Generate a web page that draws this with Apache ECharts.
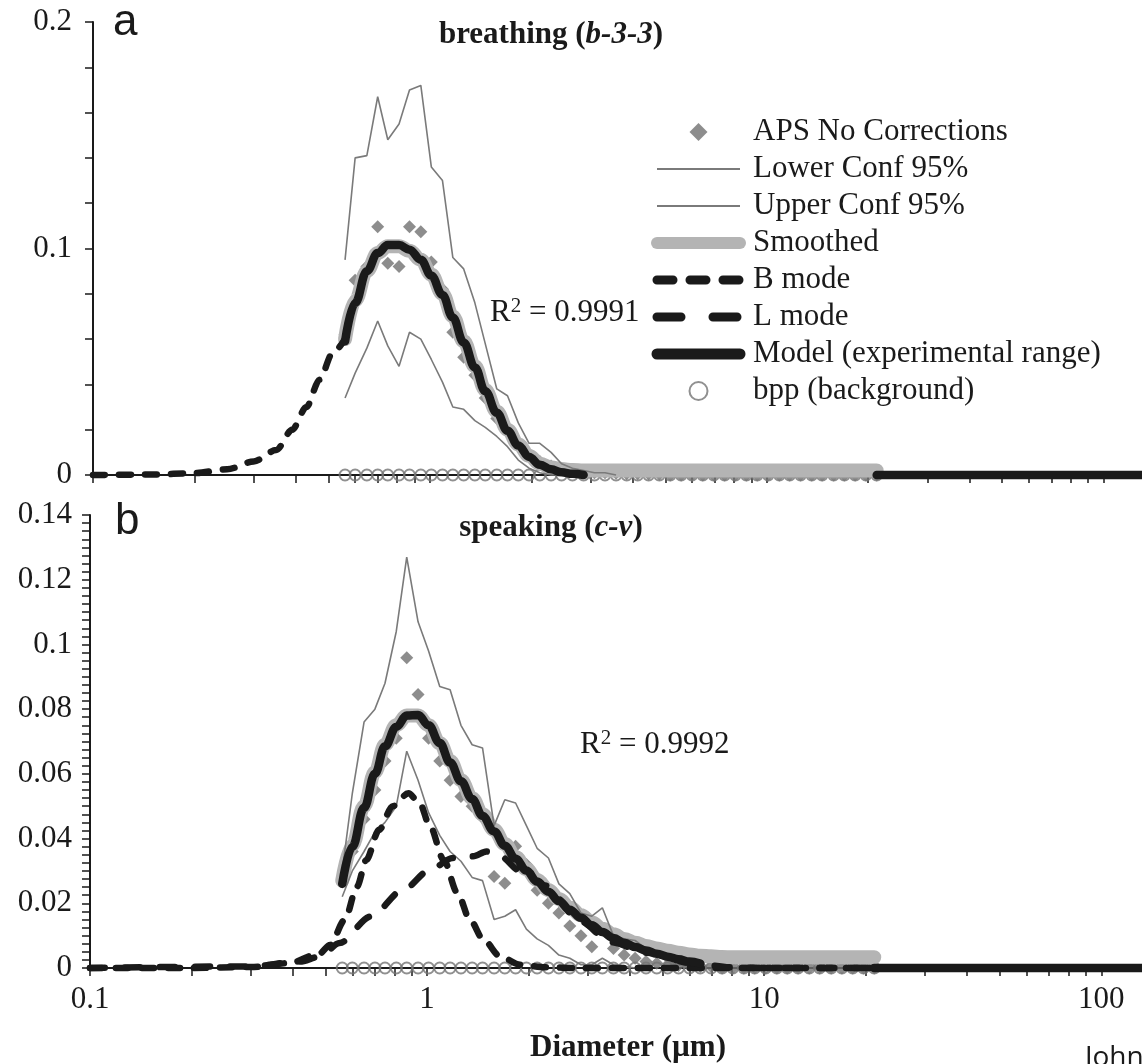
<!DOCTYPE html>
<html>
<head>
<meta charset="utf-8">
<script src="https://cdn.jsdelivr.net/npm/echarts@6/dist/echarts.min.js"></script>
<style>
  html, body { margin: 0; padding: 0; background: #fff; }
  #chart { width: 1142px; height: 1064px; }
</style>
</head>
<body>
<div id="chart"></div>
<script>
// APS channel diameters (µm)
const dp = [
  0.56, 0.60, 0.65, 0.70, 0.75, 0.81, 0.87, 0.94, 1.01, 1.09,
  1.17, 1.26, 1.36, 1.46, 1.58, 1.70, 1.83, 1.97, 2.12, 2.29,
  2.46, 2.65, 2.86, 3.08, 3.31, 3.57, 3.84, 4.14, 4.46, 4.80,
  5.17, 5.57, 6.00, 6.46, 6.96, 7.50, 8.07, 8.70, 9.37, 10.1,
  10.9, 11.7, 12.6, 13.6, 14.6, 15.8, 17.0, 18.3, 19.7, 21.2
];

// x axis ticks (major + minor) and labelled decades
const xTicks = [
  0.1, 0.2, 0.3, 0.4, 0.5, 0.6, 0.7, 0.8, 0.9,
  1, 2, 3, 4, 5, 6, 7, 8, 9,
  10, 20, 30, 40, 50, 60, 70, 80, 90, 100
];
const xLabels = [0.1, 1, 10, 100];

// ---- panel a: breathing (b-3-3) ----
const apsA = [
  0.062, 0.086, 0.092, 0.1096, 0.0935, 0.092, 0.1096, 0.1074, 0.094, 0.082,
  0.063, 0.052, 0.044, 0.034, 0.025, 0.019, 0.014, 0.009, 0.006, 0.004,
  0.003, 0.002, 0.0015, 0.001, 0.001, 0.0008, 0.0006, 0.0005, 0.0004, 0.0003,
  0, 0, 0, 0, 0, 0, 0, 0, 0, 0,
  0, 0, 0, 0, 0, 0, 0, 0, 0, 0
];
const lowerA = [
  0.034, 0.045, 0.056, 0.068, 0.057, 0.048, 0.063, 0.060, 0.051, 0.041,
  0.030, 0.029, 0.024, 0.021, 0.017, 0.0125, 0.0066, 0.003, 0.001, 0,
  0
];
const upperA = [
  0.095, 0.140, 0.141, 0.167, 0.148, 0.155, 0.170, 0.172, 0.136, 0.130,
  0.096, 0.091, 0.076, 0.058, 0.038, 0.035, 0.023, 0.014, 0.014, 0.010,
  0.005, 0.003, 0.002, 0.001, 0.001, 0
];
const smoothA = [
  0.060, 0.077, 0.090, 0.098, 0.101, 0.101, 0.099, 0.095, 0.0885, 0.080,
  0.070, 0.059, 0.048, 0.0375, 0.028, 0.020, 0.0135, 0.0085, 0.005, 0.0033,
  0.0026, 0.0022, 0.002, 0.002, 0.002, 0.002, 0.002, 0.002, 0.002, 0.002,
  0.002, 0.002, 0.002, 0.002, 0.002, 0.002, 0.002, 0.002, 0.002, 0.002,
  0.002, 0.002, 0.002, 0.002, 0.002, 0.002, 0.002, 0.002, 0.002, 0.002
];
const modelA = [
  0.059, 0.076, 0.090, 0.098, 0.1015, 0.1015, 0.0995, 0.095, 0.088, 0.0795,
  0.0695, 0.0585, 0.0475, 0.037, 0.0275, 0.0195, 0.013, 0.008, 0.0045, 0.0025,
  0.0012, 0.0005, 0
];
const bModeAD = [0.1, 0.15, 0.2, 0.25, 0.3, 0.35, 0.39, 0.43, 0.47, 0.515, 0.56];
const bModeA = [0, 0.0002, 0.0008, 0.0025, 0.006, 0.011, 0.020, 0.030, 0.042, 0.054, 0.060];

// ---- panel b: speaking (c-v) ----
const apsB = [
  0.027, 0.036, 0.046, 0.055, 0.064, 0.071, 0.0959, 0.0845, 0.071, 0.064,
  0.058, 0.053, 0.050, 0.0464, 0.0283, 0.0262, 0.0376, 0.032, 0.024, 0.020,
  0.017, 0.013, 0.010, 0.0066, 0.0118, 0.006, 0.004, 0.003, 0.002, 0.0015,
  0.001, 0.0008, 0.0006, 0.0005, 0.0004, 0, 0, 0, 0, 0,
  0, 0, 0, 0, 0, 0, 0, 0, 0, 0
];
const lowerB = [
  0.022, 0.030, 0.036, 0.042, 0.045, 0.050, 0.067, 0.058, 0.048, 0.041,
  0.036, 0.033, 0.028, 0.027, 0.015, 0.016, 0.018, 0.012, 0.009, 0.007,
  0.004, 0.003, 0.001, 0.001, 0.003, 0.001, 0.0005, 0
];
const upperB = [
  0.030, 0.054, 0.076, 0.080, 0.088, 0.104, 0.127, 0.107, 0.098, 0.087,
  0.086, 0.075, 0.069, 0.068, 0.044, 0.052, 0.051, 0.044, 0.037, 0.034,
  0.026, 0.023, 0.017, 0.016, 0.0186, 0.010, 0.009, 0.0085, 0.006, 0.004,
  0.002, 0.001, 0
];
const smoothB = [
  0.027, 0.038, 0.050, 0.0605, 0.069, 0.075, 0.078, 0.078, 0.075, 0.0695,
  0.064, 0.058, 0.0525, 0.0475, 0.0427, 0.0383, 0.0343, 0.0306, 0.0272, 0.0241,
  0.0213, 0.0187, 0.0163, 0.0141, 0.0121, 0.0104, 0.009, 0.0078, 0.0068, 0.006,
  0.0053, 0.0047, 0.0042, 0.0038, 0.0036, 0.0034, 0.0033, 0.0033, 0.0033, 0.0033,
  0.0033, 0.0033, 0.0033, 0.0033, 0.0033, 0.0033, 0.0033, 0.0033, 0.0033, 0.0033
];
const modelB = [
  0.026, 0.0375, 0.0495, 0.060, 0.0685, 0.0745, 0.078, 0.0782, 0.075, 0.0695,
  0.0635, 0.0577, 0.0522, 0.047, 0.0422, 0.0378, 0.0338, 0.0301, 0.0267, 0.0236,
  0.0207, 0.018, 0.0155, 0.0132, 0.0111, 0.0093, 0.0078, 0.0065, 0.0054, 0.0044,
  0.0035, 0.0027, 0.002, 0.0014
];
const bModeBD = [0.1, 0.2, 0.3, 0.39, 0.48, 0.515, 0.57, 0.62, 0.66, 0.72, 0.79, 0.88,
  0.95, 1.02, 1.12, 1.23, 1.34, 1.47, 1.65, 1.89, 2.24, 2.84, 132];
const bModeB = [0, 0, 0.0003, 0.0015, 0.0045, 0.0071, 0.0149, 0.0252, 0.0334, 0.0427, 0.050, 0.054,
  0.051, 0.0438, 0.0334, 0.0232, 0.0149, 0.0087, 0.0035, 0.001, 0.0002, 0, 0];
const lModeBD = [0.1, 0.3, 0.42, 0.48, 0.55, 0.68, 0.85, 1.02, 1.19, 1.37, 1.5,
  1.65, 1.89, 2.24, 2.84, 3.5, 4.5, 6, 8, 10, 132];
const lModeB = [0, 0.0005, 0.002, 0.0035, 0.0077, 0.0159, 0.0242, 0.0303, 0.034, 0.0345, 0.036,
  0.0345, 0.030, 0.0255, 0.0145, 0.008, 0.0047, 0.0016, 0.0002, 0, 0];

// background (bpp) is zero in every channel
const bpp = [
  0, 0, 0, 0, 0, 0, 0, 0, 0, 0, 0, 0, 0, 0, 0, 0, 0, 0, 0, 0, 0, 0, 0, 0, 0,
  0, 0, 0, 0, 0, 0, 0, 0, 0, 0, 0, 0, 0, 0, 0, 0, 0, 0, 0, 0, 0, 0, 0, 0, 0
];
// model line beyond the last channel, along zero to the axis end
const tailD = [21.2, 60, 132];
const tailV = [0, 0, 0];

const SERIF = "'Liberation Serif', 'Times New Roman', serif";
const INK = "#1a1a1a";
const NOFILL = "rgba(0,0,0,0)";
const DIAMOND = "path://M0,-1L1,0L0,1L-1,0Z";

const pairs = (xs, ys) => ys.map((y, i) => [xs[i], y]);

function panelSeries(g, d) {
  const base = { xAxisIndex: g, yAxisIndex: g, clip: false, silent: true };
  const out = [
    Object.assign({}, base, {
      name: "Smoothed", type: "line", data: pairs(dp, d.smooth), symbol: "none",
      smooth: 0.4, smoothMonotone: "x", itemStyle: { color: NOFILL },
      lineStyle: { color: "#b4b4b4", width: 14, cap: "round", join: "round" }
    }),
    Object.assign({}, base, {
      name: "Lower Conf 95%", type: "line", data: pairs(dp, d.lower), symbol: "none",
      itemStyle: { color: NOFILL }, lineStyle: { color: "#7a7a7a", width: 1.6 }
    }),
    Object.assign({}, base, {
      name: "Upper Conf 95%", type: "line", data: pairs(dp, d.upper), symbol: "none",
      itemStyle: { color: NOFILL }, lineStyle: { color: "#7a7a7a", width: 1.6 }
    }),
    Object.assign({}, base, {
      name: "APS No Corrections", type: "scatter", data: pairs(dp, d.aps),
      symbol: "diamond", symbolSize: 13, itemStyle: { color: "#717171" }
    }),
    Object.assign({}, base, {
      name: "B mode", type: "line", data: pairs(d.bD, d.b), symbol: "none",
      smooth: 0.3, smoothMonotone: "x", itemStyle: { color: NOFILL },
      lineStyle: { color: INK, width: 6.5, type: [12, 14], cap: "round" }
    })
  ];
  if (d.l) {
    out.push(Object.assign({}, base, {
      name: "L mode", type: "line", data: pairs(d.lD, d.l), symbol: "none",
      smooth: 0.3, smoothMonotone: "x", itemStyle: { color: NOFILL },
      lineStyle: { color: INK, width: 6.5, type: [15, 20], cap: "round" }
    }));
  }
  out.push(
    Object.assign({}, base, {
      name: "Model (experimental range)", type: "line",
      data: pairs(dp, d.model).concat([[20, "-"]], pairs(tailD, tailV)), symbol: "none",
      smooth: 0.4, smoothMonotone: "x", connectNulls: false, itemStyle: { color: NOFILL },
      lineStyle: { color: INK, width: 8.5, cap: "round", join: "round" }
    }),
    Object.assign({}, base, {
      name: "bpp (background)", type: "scatter", data: pairs(dp, bpp),
      symbol: "circle", symbolSize: 11,
      itemStyle: { color: NOFILL, borderColor: "#747474", borderWidth: 2 }
    })
  );
  return out;
}

function xAxis(g, max, showLabels) {
  return {
    type: "log", logBase: 10, gridIndex: g, min: 0.1, max: max,
    axisLine: { show: true, onZero: false, lineStyle: { color: INK, width: 2 } },
    axisTick: { show: true, length: 8, customValues: xTicks, lineStyle: { color: INK, width: 1.5 } },
    splitLine: { show: false },
    axisLabel: {
      show: showLabels, margin: 16, showMaxLabel: false,
      fontFamily: SERIF, fontSize: 31, color: INK,
      formatter: v => (xLabels.some(t => Math.abs(t - v) < 1e-9) ? String(v) : "")
    }
  };
}

function yAxis(g, max, interval, minorSplit, margin) {
  return {
    type: "value", gridIndex: g, min: 0, max: max, interval: interval,
    axisLine: { show: true, lineStyle: { color: INK, width: 2 } },
    axisTick: { show: true, length: 8, lineStyle: { color: INK, width: 1.5 } },
    minorTick: { show: true, splitNumber: minorSplit, length: 8, lineStyle: { color: INK, width: 1.5 } },
    splitLine: { show: false },
    axisLabel: { margin: margin, fontFamily: SERIF, fontSize: 31, color: INK }
  };
}

const chart = echarts.init(document.getElementById("chart"), null, { renderer: "canvas" });

const option = {
  animation: false,
  backgroundColor: "#fff",
  grid: [
    { left: 93, top: 22, width: 1049, height: 453 },
    { left: 90, top: 515, width: 1052, height: 453 }
  ],
  xAxis: [
    xAxis(0, 130, false),
    Object.assign(xAxis(1, 132, true), {
      name: "Diameter (µm)", nameLocation: "middle", nameGap: 64,
      nameTextStyle: { fontFamily: SERIF, fontSize: 31, fontWeight: "bold", color: INK, padding: [0, 0, 0, 24] }
    })
  ],
  yAxis: [
    yAxis(0, 0.2, 0.1, 5, 21),
    yAxis(1, 0.14, 0.02, 8, 18)
  ],
  legend: {
    orient: "vertical", left: 651, top: 116, padding: 0,
    itemWidth: 83, itemHeight: 18, itemGap: 5,
    selectedMode: false, symbolKeepAspect: true,
    data: [
      { name: "APS No Corrections", icon: DIAMOND },
      { name: "Lower Conf 95%", lineStyle: { width: 2 } },
      { name: "Upper Conf 95%", lineStyle: { width: 2 } },
      { name: "Smoothed", lineStyle: { width: 12, cap: "round" } },
      { name: "B mode", lineStyle: { width: 9, type: [16, 17], cap: "round" } },
      { name: "L mode", lineStyle: { width: 9, type: [24, 32], cap: "round" } },
      { name: "Model (experimental range)", lineStyle: { width: 11, cap: "round" } },
      { name: "bpp (background)" }
    ],
    textStyle: { fontFamily: SERIF, fontSize: 31, color: INK, lineHeight: 32, padding: [0, 0, 0, 8] }
  },
  graphic: [
    { type: "text", x: 113, y: 23, style: { text: "a", font: "44px 'Liberation Sans', Arial, sans-serif", fill: INK, textVerticalAlign: "middle" } },
    { type: "text", x: 115, y: 522, style: { text: "b", font: "44px 'Liberation Sans', Arial, sans-serif", fill: INK, textVerticalAlign: "middle" } },
    {
      type: "text", x: 551, y: 35,
      style: {
        text: "{b|breathing (}{i|b-3-3}{b|)}", textAlign: "center", textVerticalAlign: "middle",
        rich: {
          b: { fontFamily: SERIF, fontSize: 31, fontWeight: "bold", fill: INK },
          i: { fontFamily: SERIF, fontSize: 31, fontWeight: "bold", fontStyle: "italic", fill: INK }
        }
      }
    },
    {
      type: "text", x: 551, y: 528,
      style: {
        text: "{b|speaking (}{i|c-v}{b|)}", textAlign: "center", textVerticalAlign: "middle",
        rich: {
          b: { fontFamily: SERIF, fontSize: 31, fontWeight: "bold", fill: INK },
          i: { fontFamily: SERIF, fontSize: 31, fontWeight: "bold", fontStyle: "italic", fill: INK }
        }
      }
    },
    {
      type: "text", x: 490, y: 313,
      style: {
        text: "{r|R}{s|2}{r| = 0.9991}", textVerticalAlign: "middle",
        rich: {
          r: { fontFamily: SERIF, fontSize: 31, lineHeight: 34, fill: INK },
          s: { fontFamily: SERIF, fontSize: 21, lineHeight: 20, verticalAlign: "top", fill: INK }
        }
      }
    },
    {
      type: "text", x: 580, y: 745,
      style: {
        text: "{r|R}{s|2}{r| = 0.9992}", textVerticalAlign: "middle",
        rich: {
          r: { fontFamily: SERIF, fontSize: 31, lineHeight: 34, fill: INK },
          s: { fontFamily: SERIF, fontSize: 21, lineHeight: 20, verticalAlign: "top", fill: INK }
        }
      }
    },
    { type: "text", x: 1085, y: 1058, style: { text: "Johnson et al.", font: "28px 'Open Sans', 'Liberation Sans', sans-serif", fill: INK, textVerticalAlign: "middle" } }
  ],
  series: [].concat(
    panelSeries(0, { aps: apsA, lower: lowerA, upper: upperA, smooth: smoothA, model: modelA, bD: bModeAD, b: bModeA }),
    panelSeries(1, { aps: apsB, lower: lowerB, upper: upperB, smooth: smoothB, model: modelB, bD: bModeBD, b: bModeB, lD: lModeBD, l: lModeB })
  )
};

chart.setOption(option);
</script>
</body>
</html>
